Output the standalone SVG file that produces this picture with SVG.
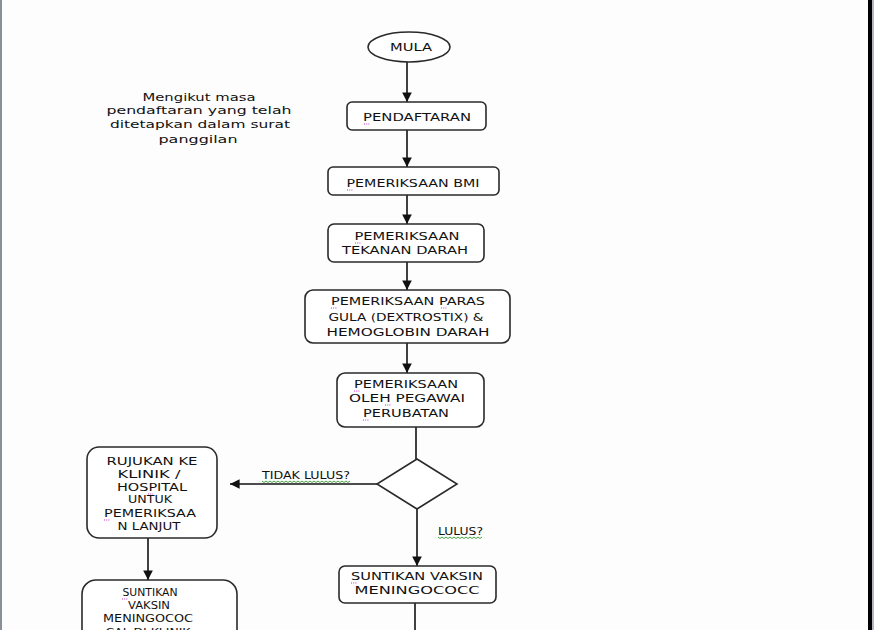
<svg xmlns="http://www.w3.org/2000/svg" width="874" height="630" viewBox="0 0 874 630">
<style>
.bg{fill:#fdfdfd}
.box{fill:#ffffff;stroke:#2a2a2a;stroke-width:1.6}
.t{font-family:"DejaVu Sans","Liberation Sans",sans-serif;font-size:11px;fill:#111111;text-anchor:middle}
.ts{font-family:"DejaVu Sans","Liberation Sans",sans-serif;font-size:10.5px;fill:#111111;text-anchor:middle}
.tl{font-family:"DejaVu Sans","Liberation Sans",sans-serif;font-size:11px;fill:#111111}
.c{stroke:#111111;stroke-width:1.6;fill:none}
.sq{stroke:#2e9e2e;stroke-width:0.9;fill:none}
.pk{stroke:#cc33cc;stroke-width:1;stroke-dasharray:1 1.2;fill:none}
</style>
<defs>
<marker id="ah" viewBox="0 0 10 10" refX="10" refY="5" markerWidth="6" markerHeight="6" orient="auto" markerUnits="strokeWidth">
<path d="M0,0 L10,5 L0,10 z" fill="#111111"/>
</marker>
</defs>
<rect class="bg" x="0" y="0" width="874" height="630"/>
<line x1="1" y1="0" x2="1" y2="630" stroke="#8a8f99" stroke-width="2"/>
<rect x="868" y="0" width="4" height="630" fill="#000000"/>
<line x1="873" y1="0" x2="873" y2="630" stroke="#6b7080" stroke-width="1"/>

<g id="connectors">
<line class="c" x1="407" y1="62" x2="407" y2="102" marker-end="url(#ah)"/>
<line class="c" x1="407" y1="130" x2="407" y2="167" marker-end="url(#ah)"/>
<line class="c" x1="407" y1="195" x2="407" y2="224" marker-end="url(#ah)"/>
<line class="c" x1="407" y1="262" x2="407" y2="290" marker-end="url(#ah)"/>
<line class="c" x1="407" y1="343" x2="407" y2="373" marker-end="url(#ah)"/>
<line class="c" x1="416" y1="427" x2="416" y2="459"/>
<line class="c" x1="377" y1="484" x2="230" y2="484" marker-end="url(#ah)"/>
<line class="c" x1="417" y1="509" x2="417" y2="566" marker-end="url(#ah)"/>
<line class="c" x1="148" y1="538" x2="148" y2="580" marker-end="url(#ah)"/>
<line class="c" x1="415" y1="603" x2="415" y2="630"/>
</g>

<g id="note">
<text class="t" x="199" y="101" textLength="113" lengthAdjust="spacingAndGlyphs">Mengikut masa</text>
<text class="t" x="199" y="114" textLength="185" lengthAdjust="spacingAndGlyphs">pendaftaran yang telah</text>
<text class="t" x="200" y="128" textLength="180" lengthAdjust="spacingAndGlyphs">ditetapkan dalam surat</text>
<text class="t" x="198" y="143" textLength="79" lengthAdjust="spacingAndGlyphs">panggilan</text>
</g>

<g id="mula">
<ellipse class="box" cx="409" cy="47" rx="41" ry="15"/>
<text class="t" x="411" y="51" textLength="42" lengthAdjust="spacingAndGlyphs">MULA</text>
</g>

<g id="pendaftaran">
<rect class="box" x="347" y="102" width="139" height="28" rx="5"/>
<text class="t" x="417" y="121" textLength="108" lengthAdjust="spacingAndGlyphs">PENDAFTARAN</text>
<line class="pk" x1="364" y1="124" x2="370" y2="124"/>
</g>

<g id="bmi">
<rect class="box" x="328" y="167" width="171" height="28" rx="5"/>
<text class="t" x="413" y="187" textLength="133" lengthAdjust="spacingAndGlyphs">PEMERIKSAAN BMI</text>
<line class="pk" x1="347" y1="190" x2="353" y2="190"/>
</g>

<g id="tekanan">
<rect class="box" x="328" y="224" width="156" height="38" rx="6"/>
<text class="t" x="407" y="240" textLength="105" lengthAdjust="spacingAndGlyphs">PEMERIKSAAN</text>
<text class="t" x="405" y="254" textLength="126" lengthAdjust="spacingAndGlyphs">TEKANAN DARAH</text>
<line class="pk" x1="355" y1="243" x2="361" y2="243"/>
</g>

<g id="gula">
<rect class="box" x="305" y="290" width="205" height="53" rx="8"/>
<text class="t" x="408" y="305" textLength="154" lengthAdjust="spacingAndGlyphs">PEMERIKSAAN PARAS</text>
<text class="t" x="406" y="321" textLength="155" lengthAdjust="spacingAndGlyphs">GULA (DEXTROSTIX) &amp;</text>
<text class="t" x="408" y="336" textLength="163" lengthAdjust="spacingAndGlyphs">HEMOGLOBIN DARAH</text>
<line class="pk" x1="331" y1="308" x2="337" y2="308"/>
<line class="pk" x1="441" y1="308" x2="447" y2="308"/>
</g>

<g id="pegawai">
<rect class="box" x="337" y="373" width="147" height="54" rx="8"/>
<text class="t" x="406" y="388" textLength="104" lengthAdjust="spacingAndGlyphs">PEMERIKSAAN</text>
<text class="t" x="407" y="402" textLength="116" lengthAdjust="spacingAndGlyphs">OLEH PEGAWAI</text>
<text class="t" x="406" y="417" textLength="86" lengthAdjust="spacingAndGlyphs">PERUBATAN</text>
<line class="pk" x1="354" y1="391" x2="360" y2="391"/>
<line class="pk" x1="385" y1="405" x2="391" y2="405"/>
<line class="pk" x1="363" y1="420" x2="369" y2="420"/>
</g>

<g id="keputusan">
<polygon class="box" points="417,459 457,484 417,509 377,484"/>
</g>

<g id="label-tidak">
<text class="tl" x="262" y="479" textLength="88" lengthAdjust="spacingAndGlyphs">TIDAK LULUS?</text>
<path class="sq" d="M262,481 l2,1.5 l2,-1.5 l2,1.5 l2,-1.5 l2,1.5 l2,-1.5 l2,1.5 l2,-1.5 l2,1.5 l2,-1.5 l2,1.5 l2,-1.5 l2,1.5 l2,-1.5 l2,1.5 l2,-1.5 l2,1.5 l2,-1.5 l2,1.5 l2,-1.5 l2,1.5 l2,-1.5 l2,1.5 l2,-1.5 l2,1.5 l2,-1.5 l2,1.5 l2,-1.5 l2,1.5 l2,-1.5 l2,1.5 l2,-1.5 l2,1.5 l2,-1.5 l2,1.5 l2,-1.5 l2,1.5 l2,-1.5 l2,1.5 l2,-1.5 l2,1.5 l2,-1.5 l2,1.5 l2,-1.5"/>
</g>

<g id="label-lulus">
<text class="tl" x="438" y="535" textLength="45" lengthAdjust="spacingAndGlyphs">LULUS?</text>
<path class="sq" d="M438,537 l2,1.5 l2,-1.5 l2,1.5 l2,-1.5 l2,1.5 l2,-1.5 l2,1.5 l2,-1.5 l2,1.5 l2,-1.5 l2,1.5 l2,-1.5 l2,1.5 l2,-1.5 l2,1.5 l2,-1.5 l2,1.5 l2,-1.5 l2,1.5 l2,-1.5 l2,1.5 l2,-1.5"/>
</g>

<g id="rujukan">
<rect class="box" x="87" y="447" width="130" height="91" rx="12"/>
<text class="ts" x="152" y="465" textLength="91" lengthAdjust="spacingAndGlyphs">RUJUKAN KE</text>
<text class="ts" x="149" y="478" textLength="63" lengthAdjust="spacingAndGlyphs">KLINIK /</text>
<text class="ts" x="152" y="491" textLength="70" lengthAdjust="spacingAndGlyphs">HOSPITAL</text>
<text class="ts" x="150" y="503" textLength="44" lengthAdjust="spacingAndGlyphs">UNTUK</text>
<text class="ts" x="150" y="517" textLength="92" lengthAdjust="spacingAndGlyphs">PEMERIKSAA</text>
<text class="ts" x="149" y="530" textLength="63" lengthAdjust="spacingAndGlyphs">N LANJUT</text>
<line class="pk" x1="148" y1="494" x2="153" y2="494"/>
<line class="pk" x1="104" y1="520" x2="110" y2="520"/>
</g>

<g id="suntikan-klinik">
<rect class="box" x="82" y="580" width="155" height="70" rx="14"/>
<text class="t" x="150" y="596" textLength="55" lengthAdjust="spacingAndGlyphs">SUNTIKAN</text>
<text class="t" x="149" y="609" textLength="42" lengthAdjust="spacingAndGlyphs">VAKSIN</text>
<text class="t" x="148" y="622" textLength="90" lengthAdjust="spacingAndGlyphs">MENINGOCOC</text>
<text class="t" x="148" y="636" textLength="85" lengthAdjust="spacingAndGlyphs">CAL DI KLINIK</text>
<line class="pk" x1="122" y1="599" x2="128" y2="599"/>
</g>

<g id="suntikan">
<rect class="box" x="339" y="566" width="157" height="37" rx="6"/>
<text class="t" x="417" y="580" textLength="132" lengthAdjust="spacingAndGlyphs">SUNTIKAN VAKSIN</text>
<text class="t" x="417" y="594" textLength="125" lengthAdjust="spacingAndGlyphs">MENINGOCOCC</text>
<line class="pk" x1="351" y1="583" x2="357" y2="583"/>
</g>
</svg>
